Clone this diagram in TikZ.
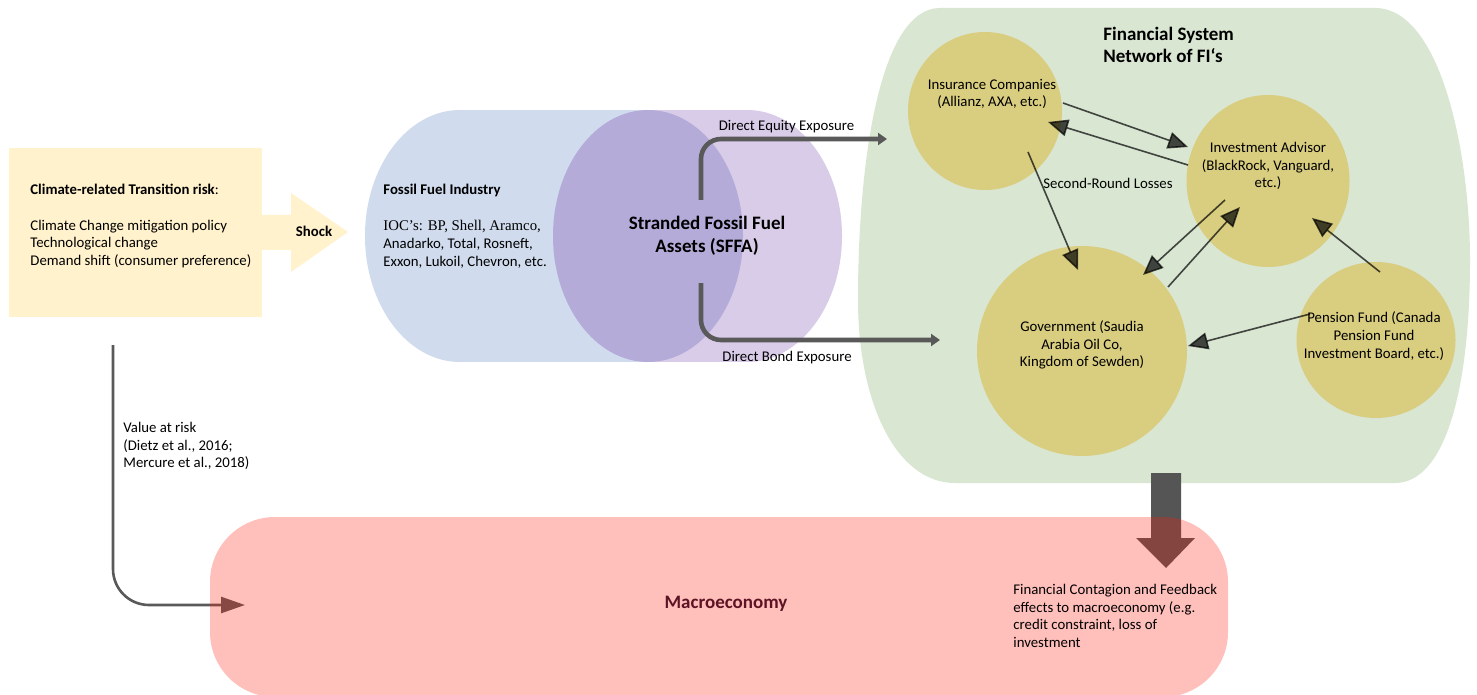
\documentclass[tikz,border=0pt]{standalone}
\usepackage{fontspec}
\setmainfont{Carlito}
\newfontfamily\ioctimes{Liberation Serif}
\usetikzlibrary{arrows.meta,shapes.geometric,calc}
\definecolor{risk-bg}{HTML}{FFF2CC}
\definecolor{cyl-blue}{HTML}{D0DCEE}
\definecolor{cyl-purple}{HTML}{B4ABD9}
\definecolor{cyl-lilac}{HTML}{D9CCE8}
\definecolor{fin-green}{HTML}{D9E6D2}
\definecolor{fi-gold}{HTML}{D9CD80}
\definecolor{macro-red}{RGB}{255,26,12}
\definecolor{link-gray}{HTML}{595959}
\definecolor{block-gray}{HTML}{555555}
\definecolor{macro-text}{HTML}{5C1424}

\begin{document}
\begin{tikzpicture}[x=0.5pt, y=-0.5pt,
    every node/.style={font=\fontsize{7.4}{8.9}\selectfont, inner sep=0pt},
    fi/.style={ellipse, fill=fi-gold},
    fitext/.style={align=center},
    net/.style={draw=black, opacity=0.7, line width=0.8pt,
                -{Triangle[length=10pt,width=8.5pt]}},
    expo/.style={draw=link-gray, line width=2.3pt, rounded corners=10pt,
                 -{Triangle[length=4.5pt,width=6pt]}}]
      \useasboundingbox (0,0) rectangle (1477,695);
      \fill[white] (0,0) rectangle (1477,695);
      \fill[fin-green] (940,8) -- (1375,8) .. controls (1440,8) and (1470,150) .. (1470,260)
            .. controls (1470,390) and (1445,483) .. (1395,483) -- (955,483)
            .. controls (895,483) and (858,400) .. (858,300)
            .. controls (858,160) and (880,8) .. (940,8) -- cycle;
      \node[anchor=west, align=left, font=\fontsize{9.5}{11}\selectfont\bfseries]
            (fsys) at (1103,45) {Financial System\\Network of FI‘s};
      \node[fi, minimum width=77pt, minimum height=79pt]   (ins) at (985,111) {};
      \node[fi, minimum width=81.5pt, minimum height=86pt] (adv) at (1268,181) {};
      \node[fi, minimum width=105pt, minimum height=105pt] (gov) at (1082,351) {};
      \node[fi, minimum width=79.5pt, minimum height=78pt] (pen) at (1376,340) {};
      \node[fitext] (instxt) at ($(ins)+(7,-17)$) {Insurance Companies\\(Allianz, AXA, etc.)};
      \node[fitext] (advtxt) at ($(adv)+(0,-15)$) {Investment Advisor\\(BlackRock, Vanguard,\\etc.)};
      \node[fitext] (govtxt) at ($(gov)+(0,-6)$) {Government (Saudia\\Arabia Oil Co,\\Kingdom of Sewden)};
      \node[fitext] (pentxt) at ($(pen)+(-2,-4)$) {Pension Fund (Canada\\Pension Fund\\Investment Board, etc.)};
      \draw[net] ($(ins)+(78,-8)$)  -- ($(adv)+(-80,-34)$);
      \draw[net] ($(adv)+(-80,-16)$) -- ($(ins)+(63,11)$);
      \draw[net] ($(ins)+(43,41)$)  -- ($(gov)+(-4,-81)$);
      \draw[net] ($(adv)+(-43,19)$) -- ($(gov)+(61,-76)$);
      \draw[net] ($(gov)+(86,-64)$) -- ($(adv)+(-28,26)$);
      \draw[net] ($(pen)+(4,-68)$)  -- ($(adv)+(44,37)$);
      \draw[net] ($(pen)+(-66,-26)$) -- ($(gov)+(106,-5)$);
      \node (loss) at (1108,183) {Second-Round Losses};
      \fill[cyl-blue] (460,236) ellipse [x radius=47.5pt, y radius=63pt];
      \fill[cyl-blue] (460,110) rectangle (648,362);
      \fill[cyl-lilac] (648,110) rectangle (747,362);
      \fill[cyl-lilac] (747,236) ellipse [x radius=47.5pt, y radius=63pt];
      \fill[cyl-purple] (648,236) ellipse [x radius=47.5pt, y radius=63pt];
      \node[anchor=west, align=left] (ffi) at (383,226)
            {\textbf{Fossil Fuel Industry}\\[9.4pt]\ioctimes\fontsize{7.4}{8.5}\selectfont
             IOC’s: BP, Shell, Aramco,\\Anadarko, Total, Rosneft,\\Exxon, Lukoil, Chevron, etc.};
      \node[font=\fontsize{9.5}{11.5}\selectfont\bfseries, align=center]
            (sffa) at (707,236) {Stranded Fossil Fuel\\Assets (SFFA)};
      \coordinate (eqstart) at (701,200);
      \coordinate (eqend) at (887,139);
      \coordinate (bdstart) at (701,283);
      \coordinate (bdend) at (940,340);
      \draw[expo] (eqstart) |- (eqend) node[pos=0.73, above=1.8pt] {Direct Equity Exposure};
      \draw[expo] (bdstart) |- (bdend) node[pos=0.68, below=4.4pt] {Direct Bond Exposure};
      \node[fill=risk-bg, minimum width=126.5pt, minimum height=84.5pt] (risk) at (135.5,232.5) {};
      \node[anchor=west, align=left, font=\fontsize{7.4}{8.8}\selectfont] (risktxt) at (30,226)
            {\textbf{Climate-related Transition risk}:\\[9pt]Climate Change mitigation policy\\
             Technological change\\Demand shift (consumer preference)};
      \fill[risk-bg] (262,215) -- (291,215) -- (291,193) -- (348,232) -- (291,272)
            -- (291,250) -- (262,250) -- cycle;
      \node[font=\fontsize{7.4}{8.9}\selectfont\bfseries] (shock) at (314,231) {Shock};
      \coordinate (varstart) at (113,345);
      \coordinate (varend) at (245,605);
      \draw[link-gray, line width=1.3pt, rounded corners=18pt,
            -{Triangle[length=12pt,width=8pt]}] (varstart) |- (varend);
      \node[anchor=west, align=left] (vartxt) at (123,446)
            {Value at risk\\(Dietz et al., 2016;\\Mercure et al., 2018)};
      \fill[block-gray] (1151,473) -- (1181,473) -- (1181,538) -- (1195,538) -- (1166,568)
            -- (1136,538) -- (1151,538) -- cycle;
      \node[fill=macro-red, fill opacity=0.28, rounded corners=32.5pt,
            minimum width=509pt, minimum height=90pt] (macro) at (719,607) {};
      \node[font=\fontsize{9.5}{11}\selectfont\bfseries, text=macro-text]
            (macrotxt) at (726,604) {Macroeconomy};
      \node[anchor=west, align=left] (feedback) at (1013,616)
            {Financial Contagion and Feedback\\effects to macroeconomy (e.g.\\
             credit constraint, loss of\\investment};
    \end{tikzpicture}
\end{document}
